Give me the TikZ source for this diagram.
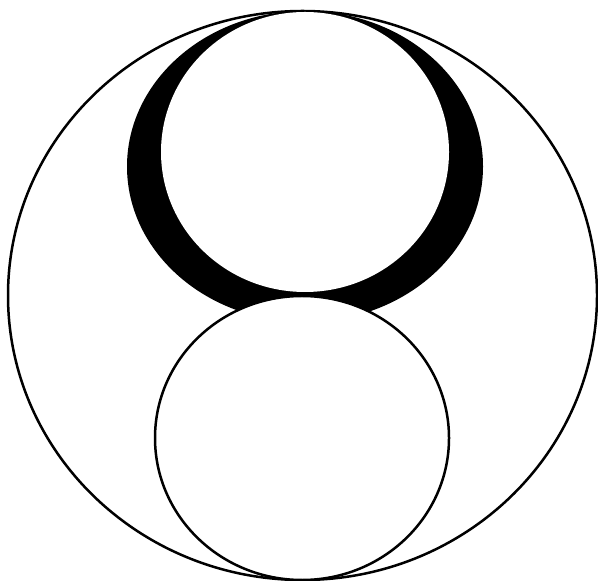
\documentclass[tikz,border=0pt]{standalone}
\usepackage{tikz}
\tikzset{rim/.style={black,line width=1.25pt}}

\begin{document}
\begin{tikzpicture}[x=0.5pt,y=-0.5pt]
\useasboundingbox (0,0) rectangle (598,581);
% outer circle
\draw[rim] (302.5,295.5) ellipse [x radius=294.5, y radius=284.5];
% black crescent round the upper circle
\fill[black] (305,166.5) ellipse [x radius=178, y radius=155.5];
\fill[white] (305,152) ellipse [x radius=144, y radius=140];
% lower circle
\draw[rim,fill=white] (302,438) ellipse [x radius=147, y radius=142];
\end{tikzpicture}
\end{document}
